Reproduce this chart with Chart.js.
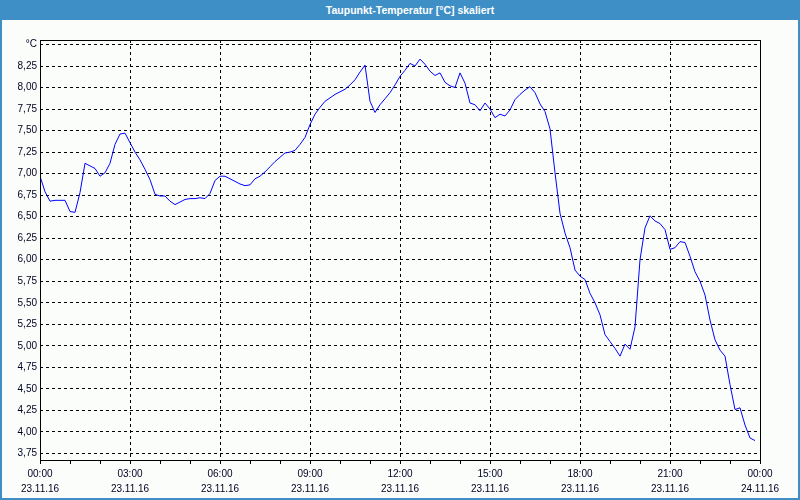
<!DOCTYPE html>
<html lang="de">
<head>
    <meta charset="UTF-8">
    <title>Taupunkt-Temperatur [°C] skaliert</title>
    <script src="https://cdn.jsdelivr.net/npm/chart.js"></script>
    <style>
        html, body {
            margin: 0;
            padding: 0;
        }
        #window {
            position: relative;
            width: 800px;
            height: 500px;
            box-sizing: border-box;
            background: #fbfdfb;
            border-left: 2px solid #3d8fc6;
            border-right: 2px solid #3d8fc6;
            border-bottom: 2px solid #3d8fc6;
            overflow: hidden;
        }
        #titlebar {
            position: absolute;
            left: -2px;
            top: 0;
            width: 800px;
            height: 20px;
            line-height: 20px;
            background: #3d8fc6;
            color: #ffffff;
            font-family: 'Liberation Sans', sans-serif;
            font-size: 10.5px;
            font-weight: bold;
            text-align: center;
            padding-left: 20px;
            box-sizing: border-box;
        }
        #chart {
            position: absolute;
            left: -2px;
            top: 0;
        }
    </style>
</head>
<body>
    <div id="window">
        <canvas id="chart" width="800" height="500"></canvas>
        <div id="titlebar">Taupunkt-Temperatur [°C] skaliert</div>
    </div>

    <script>
        // dew point values, one every 10 minutes starting 23.11.16 00:00
        const stepMinutes = 10;
        const dewPoint = [
            6.97, 6.79, 6.68, 6.69, 6.69, 6.69, 6.56, 6.55, 6.78, 7.12,
            7.09, 7.06, 6.97, 7.01, 7.12, 7.34, 7.46, 7.47, 7.36, 7.25,
            7.16, 7.05, 6.93, 6.76, 6.74, 6.74, 6.68, 6.64, 6.67, 6.70,
            6.71, 6.71, 6.72, 6.71, 6.77, 6.92, 6.97, 6.97, 6.94, 6.91,
            6.88, 6.86, 6.87, 6.94, 6.97, 7.02, 7.08, 7.14, 7.19, 7.24,
            7.25, 7.27, 7.34, 7.42, 7.57, 7.69, 7.77, 7.84, 7.88, 7.92,
            7.95, 7.98, 8.03, 8.09, 8.18, 8.26, 7.84, 7.71, 7.80, 7.87,
            7.94, 8.03, 8.13, 8.20, 8.28, 8.25, 8.33, 8.27, 8.19, 8.14,
            8.17, 8.06, 8.02, 8.00, 8.17, 8.05, 7.82, 7.80, 7.73, 7.82,
            7.75, 7.65, 7.69, 7.67, 7.74, 7.86, 7.92, 7.97, 8.01, 7.94,
            7.81, 7.72, 7.52, 7.01, 6.54, 6.31, 6.14, 5.88, 5.81, 5.77,
            5.61, 5.50, 5.36, 5.13, 5.05, 4.97, 4.88, 5.02, 4.96, 5.22,
            6.00, 6.37, 6.51, 6.45, 6.42, 6.35, 6.12, 6.14, 6.21, 6.20,
            6.04, 5.86, 5.75, 5.59, 5.30, 5.07, 4.95, 4.88, 4.55, 4.26,
            4.28, 4.08, 3.93, 3.90
        ];

        const timeLabels = ['00:00', '03:00', '06:00', '09:00', '12:00', '15:00', '18:00', '21:00', '00:00'];
        const dateLabels = ['23.11.16', '23.11.16', '23.11.16', '23.11.16', '23.11.16', '23.11.16', '23.11.16', '23.11.16', '24.11.16'];
        const yTicks = [3.75, 4.00, 4.25, 4.50, 4.75, 5.00, 5.25, 5.50, 5.75, 6.00, 6.25, 6.50, 6.75, 7.00, 7.25, 7.50, 7.75, 8.00, 8.25, 8.50];

        const points = dewPoint.map((v, i) => ({ x: i * stepMinutes / 60, y: v }));

        const labelFont = { family: 'Liberation Sans', size: 10, lineHeight: 1.5 };
        const labelColor = '#000022';

        // black frame round the plot area
        const framePlugin = {
            id: 'frame',
            afterDraw(chart) {
                const a = chart.chartArea;
                const ctx = chart.ctx;
                ctx.save();
                ctx.strokeStyle = '#000000';
                ctx.lineWidth = 1;
                ctx.setLineDash([]);
                ctx.strokeRect(Math.round(a.left) + 0.5, Math.round(a.top) + 0.5,
                    Math.round(a.right - a.left), Math.round(a.bottom - a.top));
                ctx.restore();
            }
        };

        new Chart(document.getElementById('chart').getContext('2d'), {
            type: 'line',
            data: {
                datasets: [{
                    label: 'Taupunkt',
                    data: points,
                    borderColor: '#0000ff',
                    borderWidth: 1,
                    pointRadius: 0,
                    tension: 0,
                    fill: false
                }]
            },
            options: {
                responsive: false,
                animation: false,
                layout: {
                    padding: { left: 2, top: 40, right: 40, bottom: 0 }
                },
                plugins: {
                    legend: { display: false },
                    tooltip: { enabled: false }
                },
                scales: {
                    x: {
                        type: 'linear',
                        min: 0,
                        max: 24,
                        afterFit: (scale) => { scale.height = 40; },
                        border: { display: false, dash: [3, 3] },
                        grid: {
                            color: (ctx) => (ctx.tick && ctx.tick.value % 3 === 0 && ctx.tick.value > 0 && ctx.tick.value < 24) ? '#000000' : 'rgba(0,0,0,0)',
                            tickColor: '#000000',
                            tickLength: 4,
                            tickBorderDash: [10, 0],
                            lineWidth: 1
                        },
                        ticks: {
                            stepSize: 1,
                            autoSkip: false,
                            maxRotation: 0,
                            padding: 3,
                            font: labelFont,
                            color: labelColor,
                            callback: (v) => v % 3 === 0 ? [timeLabels[v / 3], dateLabels[v / 3]] : ''
                        }
                    },
                    y: {
                        type: 'linear',
                        min: 3.674,
                        max: 8.552,
                        afterFit: (scale) => { scale.width = 38; },
                        afterBuildTicks: (scale) => { scale.ticks = yTicks.map(v => ({ value: v })); },
                        border: { display: false, dash: [3, 3] },
                        grid: {
                            color: '#000000',
                            lineWidth: 1,
                            drawTicks: false
                        },
                        ticks: {
                            padding: 3,
                            font: labelFont,
                            color: labelColor,
                            callback: (v) => v === 8.5 ? '°C' : v.toFixed(2).replace('.', ',')
                        }
                    }
                }
            },
            plugins: [framePlugin]
        });
    </script>
</body>
</html>
